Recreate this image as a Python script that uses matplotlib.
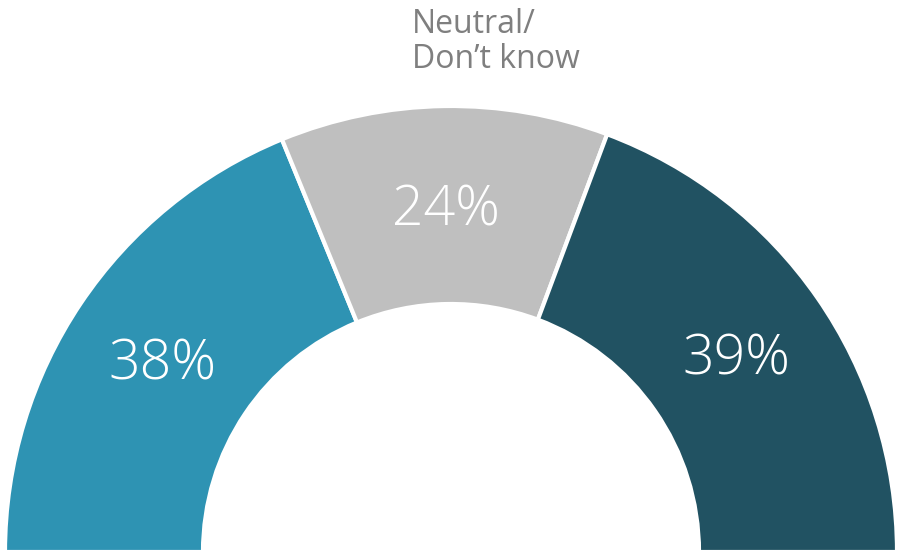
import matplotlib
matplotlib.use("Agg")
import matplotlib.pyplot as plt
from matplotlib.patches import Wedge
import numpy as np

labels = ["38%", "24%", "39%"]
values = [38, 24, 39]
colors = ["#2E93B3", "#BFBFBF", "#215262"]
top_label = "Neutral/\nDon\u2019t know"

W, H = 897, 555
cx, cy = 451, 3
r_out, r_in = 446, 248

fig = plt.figure(figsize=(W / 100, H / 100), dpi=100)
ax = fig.add_axes([0, 0, 1, 1])
ax.set_xlim(0, W)
ax.set_ylim(0, H)
ax.set_aspect("equal")
ax.axis("off")

total = sum(values)
start = 180.0
for lab, v, c in zip(labels, values, colors):
    span = v / total * 180.0
    end = start - span
    ax.add_patch(Wedge((cx, cy), r_out, end, start, width=r_out - r_in,
                       facecolor=c, edgecolor="white", linewidth=3))
    mid = np.radians((start + end) / 2)
    rm = (r_out + r_in) / 2
    ax.text(cx + rm * np.cos(mid), cy + rm * np.sin(mid) - 6, lab,
            ha="center", va="center", color="white", fontsize=40,
            family="Open Sans", fontweight="light")
    start = end

ax.text(412, H - 42, top_label, ha="left", va="center", color="#7F7F7F",
        fontsize=23, family="Open Sans", linespacing=1.1)

fig.savefig("out.png", dpi=100)
